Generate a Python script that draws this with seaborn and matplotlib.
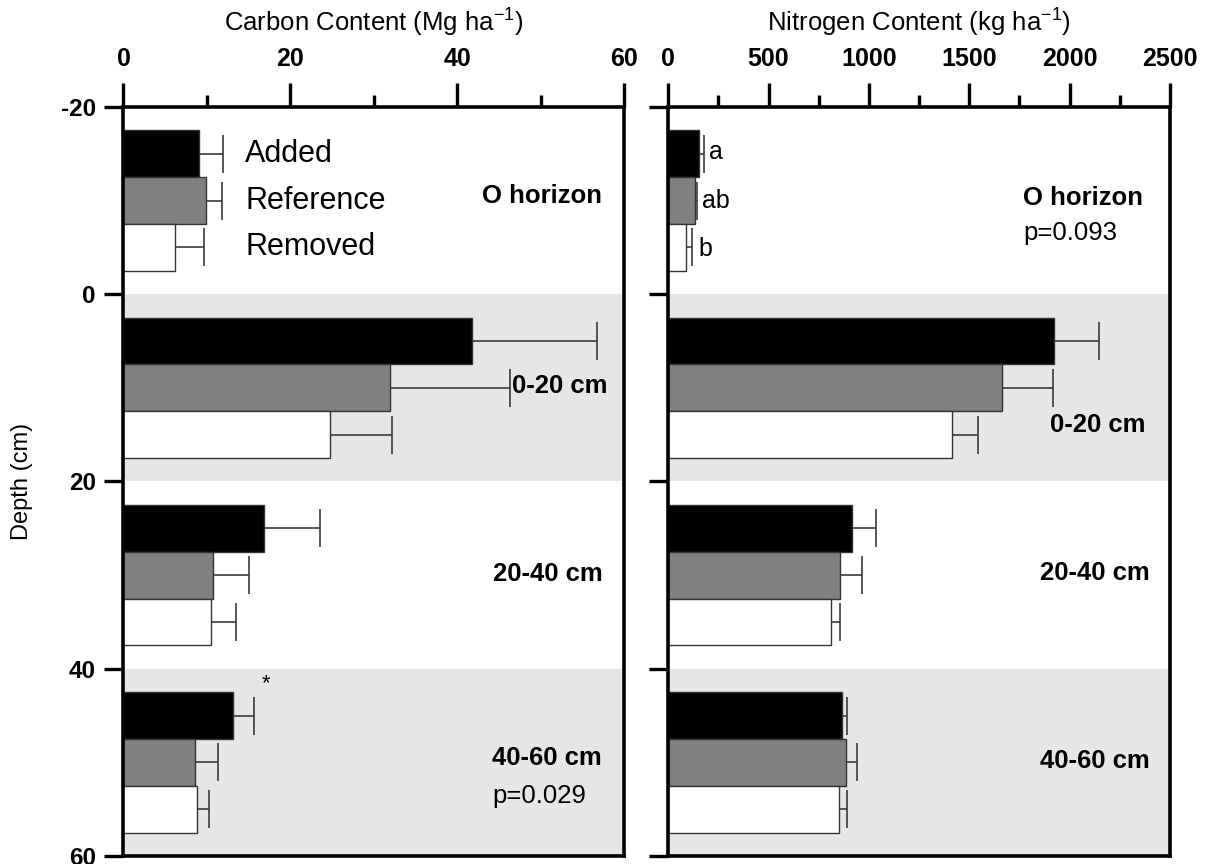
import numpy as np
import pandas as pd
import matplotlib
matplotlib.use("Agg")
import matplotlib.pyplot as plt
import seaborn as sns
from matplotlib.ticker import MultipleLocator

# ---------------- data ----------------
treatments = ["Added", "Reference", "Removed"]
layers = ["O horizon", "0-20 cm", "20-40 cm", "40-60 cm"]
layer_mid_depth = [-10, 10, 30, 50]          # mid depth of each layer (cm)
depth_ticks = [-20, 0, 20, 40, 60]

carbon_added = [9.1, 41.8, 16.9, 13.1]
carbon_reference = [9.9, 32.0, 10.7, 8.6]
carbon_removed = [6.2, 24.8, 10.5, 8.8]
carbon_se_added = [2.8, 15.0, 6.7, 2.6]
carbon_se_reference = [1.9, 14.3, 4.3, 2.7]
carbon_se_removed = [3.4, 7.4, 3.0, 1.4]

nitrogen_added = [155, 1923, 917, 864]
nitrogen_reference = [133, 1664, 854, 888]
nitrogen_removed = [89, 1412, 812, 852]
nitrogen_se_added = [21, 225, 118, 26]
nitrogen_se_reference = [10, 254, 113, 54]
nitrogen_se_removed = [30, 130, 45, 38]

carbon_ticks = [0, 20, 40, 60]
nitrogen_ticks = [0, 500, 1000, 1500, 2000, 2500]
nitrogen_letters = ["a", "ab", "b"]

colors = {"Added": "#000000", "Reference": "#808080", "Removed": "#ffffff"}


def make_df(vals, ses):
    rows = []
    for t, v_list, s_list in zip(treatments, vals, ses):
        for lay, d, v, s in zip(layers, layer_mid_depth, v_list, s_list):
            rows.append({"layer": lay, "depth": d, "treatment": t, "value": v, "se": s})
    return pd.DataFrame(rows)


df_c = make_df([carbon_added, carbon_reference, carbon_removed],
               [carbon_se_added, carbon_se_reference, carbon_se_removed])
df_n = make_df([nitrogen_added, nitrogen_reference, nitrogen_removed],
               [nitrogen_se_added, nitrogen_se_reference, nitrogen_se_removed])

# ---------------- style ----------------
sns.set_theme(style="ticks")
plt.rcParams["font.family"] = ["Liberation Sans", "DejaVu Sans"]
plt.rcParams["mathtext.default"] = "regular"
for key in ("text.color", "axes.labelcolor", "xtick.color", "ytick.color",
            "xtick.labelcolor", "ytick.labelcolor"):
    plt.rcParams[key] = "black"

fig = plt.figure(figsize=(12.08, 8.64), dpi=100)
ax_c = fig.add_axes([0.1022, 0.00926, 0.4143, 0.8669])
ax_n = fig.add_axes([0.5532, 0.00926, 0.4153, 0.8669])


def draw_panel(ax, df, xmax, minor, ticks, xlabel):
    # shaded layers
    for k in (1, 3):
        ax.axhspan(layer_mid_depth[k] - 10, layer_mid_depth[k] + 10,
                   color="#e6e6e6", lw=0, zorder=0)
    sns.barplot(data=df, x="value", y="depth", hue="treatment", orient="h",
                native_scale=True, dodge=True, width=0.75, hue_order=treatments,
                palette=colors, edgecolor="#333333", linewidth=1.0,
                errorbar=None, legend=False, ax=ax, zorder=2)
    # one-sided error bars
    for cont, t in zip(ax.containers, treatments):
        sub = df[df.treatment == t]
        ys = [b.get_y() + b.get_height() / 2 for b in cont]
        xs = [b.get_width() for b in cont]
        eb = ax.errorbar(xs, ys, xerr=[np.zeros(len(xs)), sub["se"].values],
                         fmt="none", ecolor="#3a3a3a", elinewidth=1.2,
                         capsize=14, capthick=1.2, zorder=3)
        eb.lines[1][0].set_visible(False)
    ax.set_xlim(0, xmax)
    ax.set_ylim(60, -20)
    ax.xaxis.tick_top()
    ax.xaxis.set_label_position("top")
    ax.set_xticks(ticks)
    ax.set_xticklabels([str(t) for t in ticks], fontweight="bold", fontsize=18)
    ax.xaxis.set_minor_locator(MultipleLocator(minor))
    ax.tick_params(axis="x", which="major", top=True, bottom=False, length=17,
                   width=2.4, direction="out", pad=9, color="black")
    ax.tick_params(axis="x", which="minor", top=True, bottom=False, length=9,
                   width=2.4, direction="out", color="black")
    ax.set_yticks(depth_ticks)
    ax.tick_params(axis="y", which="major", left=True, length=14, width=2.4,
                   direction="out", pad=6, color="black")
    ax.set_xlabel(xlabel, fontsize=18.5)
    ax.xaxis.set_label_coords(0.5, 1.100)
    ax.set_ylabel("")
    for sp in ax.spines.values():
        sp.set_visible(True)
        sp.set_linewidth(2.6)
        sp.set_color("black")
    ax.set_facecolor("white")


draw_panel(ax_c, df_c, 60, 10, carbon_ticks,
           "Carbon Content (Mg ha$^{-1}$)")
draw_panel(ax_n, df_n, 2500, 250, nitrogen_ticks,
           "Nitrogen Content (kg ha$^{-1}$)")

ax_c.set_yticklabels([str(d) for d in depth_ticks], fontweight="bold", fontsize=17.5)
ax_n.set_yticklabels([])
ax_c.set_ylabel("Depth (cm)", fontsize=17, labelpad=20)

# treatment labels (legend)
for t, d in zip(treatments, [-15, -10, -5]):
    ax_c.text(14.6, d, t, fontsize=22, va="center", ha="left", zorder=4)

# layer labels - carbon panel
bold = dict(fontsize=18.5, fontweight="bold", va="center", ha="left", zorder=4)
ax_c.text(43.0, -10.5, layers[0], **bold)
ax_c.text(46.6, 9.8, layers[1], **bold)
ax_c.text(44.3, 29.9, layers[2], **bold)
ax_c.text(44.2, 49.5, layers[3], **bold)
ax_c.text(44.2, 53.6, "p=0.029", fontsize=18.5, va="center", ha="left")
ax_c.text(16.6, 41.6, "*", fontsize=16, va="center", ha="left")

# layer labels - nitrogen panel
ax_n.text(1767, -10.3, layers[0], **bold)
ax_n.text(1767, -6.5, "p=0.093", fontsize=18.5, va="center", ha="left")
ax_n.text(1902, 14.0, layers[1], **bold)
ax_n.text(1852, 29.8, layers[2], **bold)
ax_n.text(1852, 49.8, layers[3], **bold)
for lab, x, d in zip(nitrogen_letters, [203, 168, 149], [-15.2, -10, -4.8]):
    ax_n.text(x, d, lab, fontsize=18, va="center", ha="left")

fig.savefig("out.png", dpi=100)
